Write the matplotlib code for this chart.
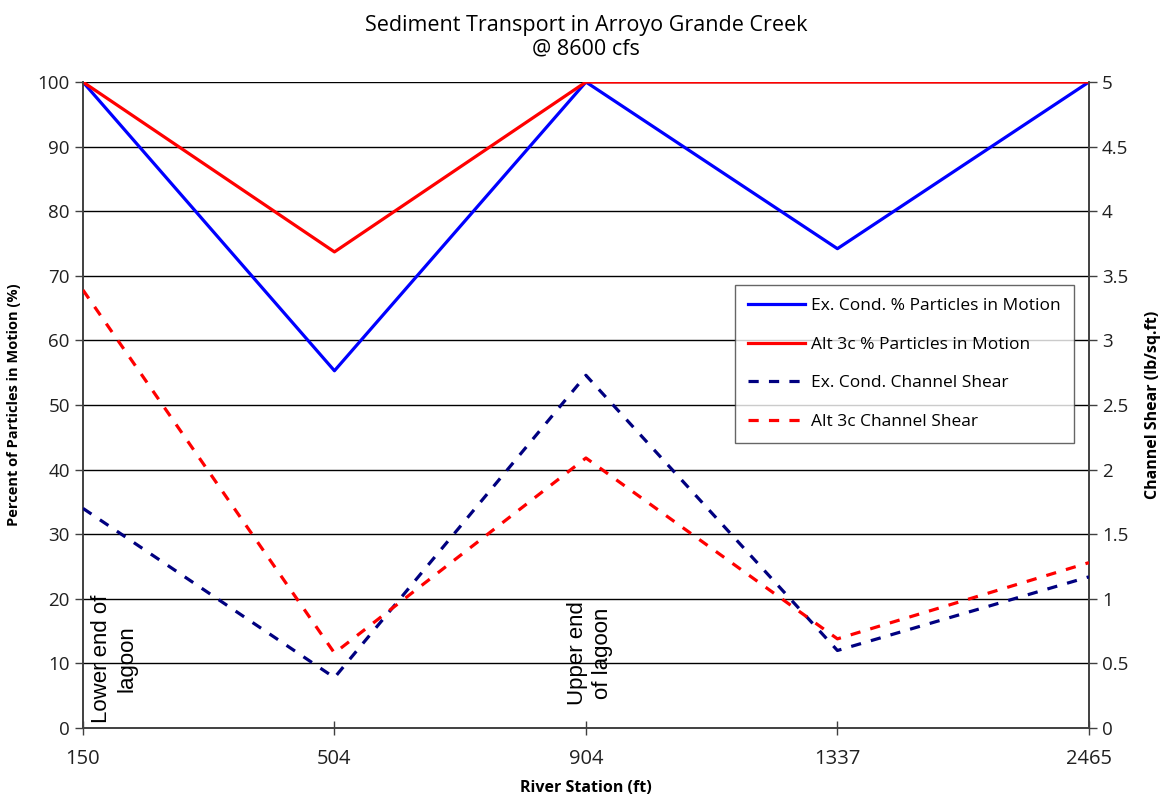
import matplotlib
matplotlib.use("Agg")
import matplotlib.pyplot as plt
import numpy as np

plt.rcParams['font.family'] = ['Open Sans', 'DejaVu Sans']

stations = ["150", "504", "904", "1337", "2465"]
ex_pct = [100, 55.3, 100, 74.2, 100]
alt_pct = [100, 73.7, 100, 100, 100]
ex_shear = [1.70, 0.39, 2.73, 0.60, 1.17]
alt_shear = [3.39, 0.58, 2.09, 0.69, 1.28]

x = np.arange(len(stations))

fig = plt.figure(figsize=(11.62, 8.08), dpi=100)
ax = fig.add_axes([0.0714, 0.099, 0.8657, 0.7995])
ax2 = ax.twinx()

ax.set_xlim(0, len(stations) - 1)
ax.set_ylim(0, 100)
ax2.set_ylim(0, 5)
ax.set_yticks(np.arange(0, 101, 10))
ax2.set_yticks(np.arange(0, 5.01, 0.5))
ax2.set_yticklabels([f"{v:g}" for v in np.arange(0, 5.01, 0.5)])
ax.set_xticks(x)
ax.set_xticklabels(stations)

for v in np.arange(10, 101, 10):
    ax.axhline(v, color='black', lw=1.0, zorder=1)

dash = (0, (3.2, 3.2))
l1, = ax.plot(x, ex_pct, color='#0000FF', lw=2.3, zorder=3,
              label='Ex. Cond. % Particles in Motion')
l2, = ax.plot(x, alt_pct, color='#FF0000', lw=2.3, zorder=3,
              label='Alt 3c % Particles in Motion')
l3, = ax2.plot(x, ex_shear, color='#000080', lw=2.3, ls=dash,
               zorder=3, label='Ex. Cond. Channel Shear')
l4, = ax2.plot(x, alt_shear, color='#FF0000', lw=2.3, ls=dash,
               zorder=3, label='Alt 3c Channel Shear')

for a in (ax, ax2):
    a.spines['top'].set_visible(False)
    for s in ('left', 'right', 'bottom'):
        a.spines[s].set_color('#404040')
        a.spines[s].set_linewidth(1.2)
    a.tick_params(axis='both', labelsize=13.5, length=6, width=1.0,
                  color='#404040', labelcolor='#202020')
ax.tick_params(axis='x', direction='inout', length=10, pad=10,
               labelsize=14.5)

ax.set_ylabel('Percent of Particles in Motion (%)', fontsize=10.5,
              fontweight='bold', labelpad=12)
ax2.set_ylabel('Channel Shear (lb/sq.ft)', fontsize=11.5,
               fontweight='bold', labelpad=12)
ax.set_xlabel('River Station (ft)', fontsize=11.5, fontweight='bold',
              labelpad=8)
ax.set_title('Sediment Transport in Arroyo Grande Creek\n@ 8600 cfs',
             fontsize=15.5, pad=20, linespacing=1.15)

narrow = ['Liberation Sans', 'DejaVu Sans']
ax.text(0.124, 0.8, 'Lower end of\nlagoon', rotation=90, ha='center',
        va='bottom', multialignment='center', fontsize=16,
        linespacing=1.3, family=narrow, zorder=4)
ax.text(2.016, 3.6, 'Upper end\nof lagoon', rotation=90, ha='center',
        va='bottom', multialignment='center', fontsize=16,
        linespacing=1.3, family=narrow, zorder=4)

leg = ax2.legend(handles=[l1, l2, l3, l4], loc='upper left',
                 bbox_to_anchor=(0.648, 0.686), fontsize=12.5,
                 frameon=True, fancybox=False, edgecolor='#404040',
                 handlelength=3.3, labelspacing=1.3, borderpad=0.75,
                 handletextpad=0.35, borderaxespad=0)
leg.get_frame().set_linewidth(1.0)

fig.savefig('out.png', dpi=100)
